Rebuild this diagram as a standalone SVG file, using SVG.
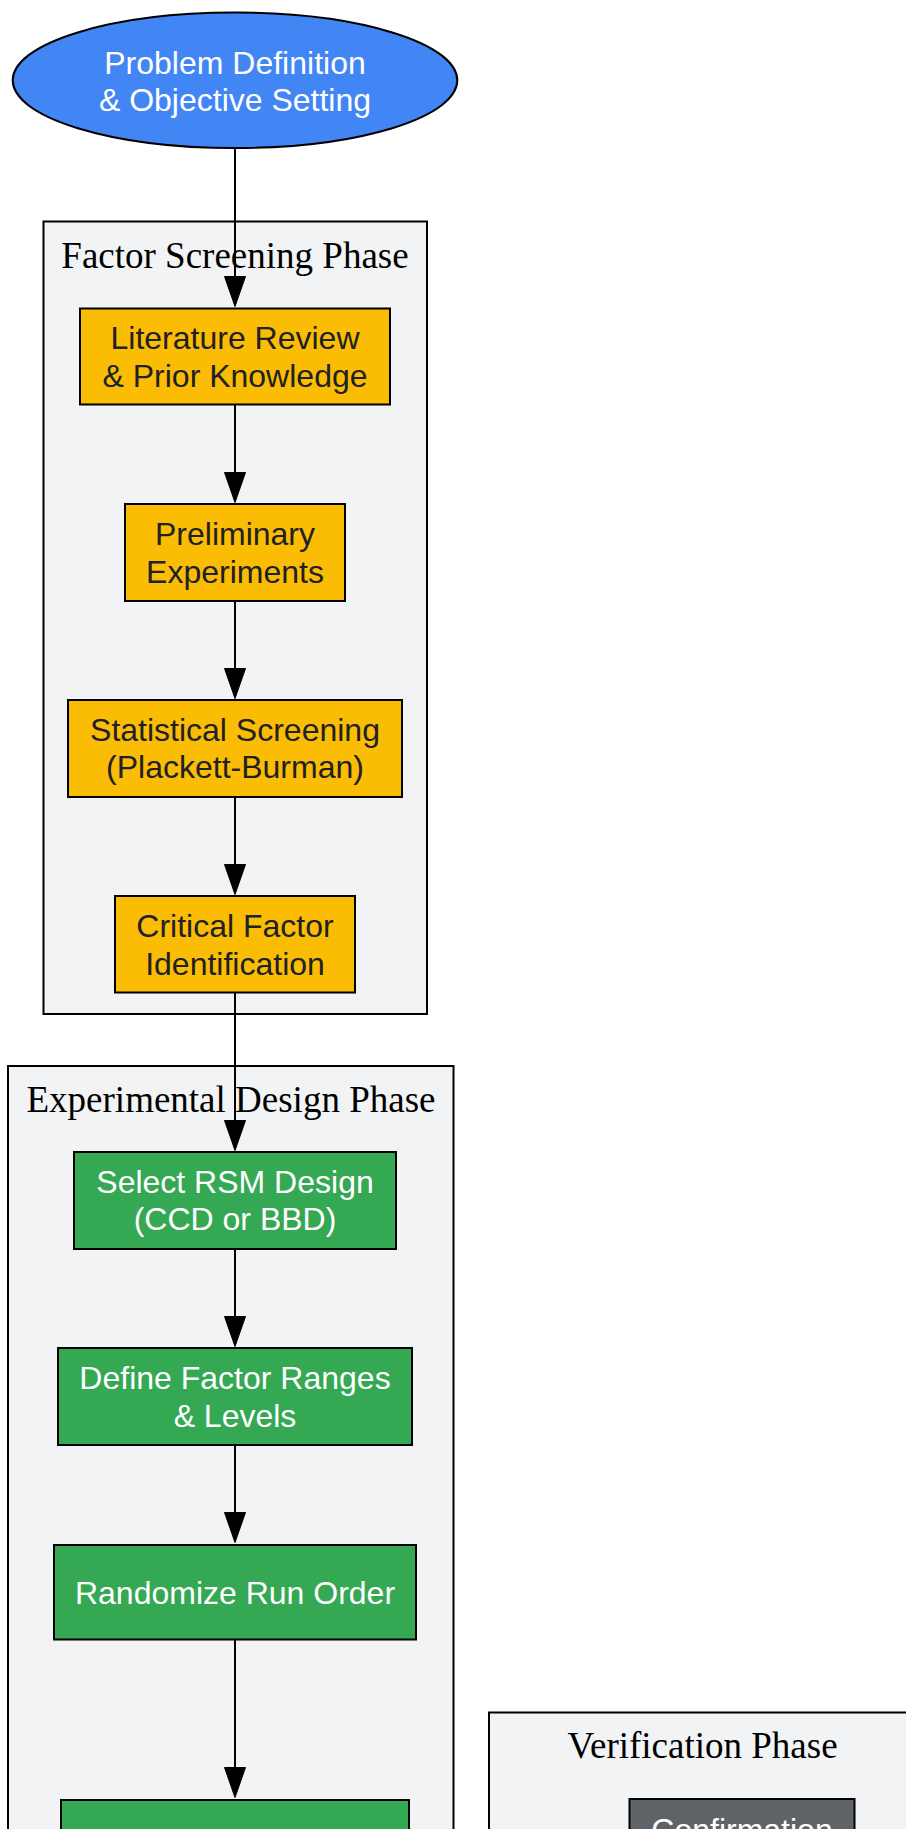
<svg xmlns="http://www.w3.org/2000/svg" width="906" height="1829" viewBox="0 0 906 1829">
<style>
.cluster{fill:#F1F3F4;stroke:#000;stroke-width:2}
.ctitle{font-family:"Liberation Serif","Times New Roman",serif;font-size:37px;fill:#000;text-anchor:middle}
.node{stroke:#000;stroke-width:2}
.lbl{font-family:"Liberation Sans",Arial,sans-serif;font-size:32px;text-anchor:middle}
.w{fill:#FFFFFF}
.d{fill:#202124}
.blue{fill:#4285F4}
.yellow{fill:#FBBC04}
.green{fill:#34A853}
.gray{fill:#5F6368}
.edge{stroke:#000;stroke-width:2;fill:none}
.head{fill:#000;stroke:#000;stroke-width:1}
</style>
<rect x="0" y="0" width="906" height="1829" fill="#FFFFFF"/>
<g id="cluster_screening">
<rect class="cluster" x="43.5" y="221.5" width="383.5" height="792.5"/>
<text class="ctitle" x="235" y="268.3">Factor Screening Phase</text>
</g>
<g id="cluster_design">
<rect class="cluster" x="8" y="1066" width="445.5" height="840"/>
<text class="ctitle" x="231" y="1111.7">Experimental Design Phase</text>
</g>
<g id="cluster_verification">
<rect class="cluster" x="489" y="1712.5" width="431" height="200"/>
<text class="ctitle" x="702.5" y="1757.7">Verification Phase</text>
</g>
<g id="edges">
<line class="edge" x1="235" y1="149" x2="235" y2="280"/>
<polygon class="head" points="224.5,276.5 245.5,276.5 235,306.5"/>
<line class="edge" x1="235" y1="405" x2="235" y2="476"/>
<polygon class="head" points="224.5,472.5 245.5,472.5 235,502.5"/>
<line class="edge" x1="235" y1="601.5" x2="235" y2="672"/>
<polygon class="head" points="224.5,668.5 245.5,668.5 235,698.5"/>
<line class="edge" x1="235" y1="797.5" x2="235" y2="868"/>
<polygon class="head" points="224.5,864.5 245.5,864.5 235,894.5"/>
<line class="edge" x1="235" y1="993" x2="235" y2="1124"/>
<polygon class="head" points="224.5,1120.5 245.5,1120.5 235,1150.5"/>
<line class="edge" x1="235" y1="1249.5" x2="235" y2="1320"/>
<polygon class="head" points="224.5,1316.5 245.5,1316.5 235,1346.5"/>
<line class="edge" x1="235" y1="1445.5" x2="235" y2="1516"/>
<polygon class="head" points="224.5,1512.5 245.5,1512.5 235,1542.5"/>
<line class="edge" x1="235" y1="1640" x2="235" y2="1771"/>
<polygon class="head" points="224.5,1767.5 245.5,1767.5 235,1797.5"/>
</g>
<g id="node_problem">
<ellipse class="node blue" cx="235" cy="80.3" rx="222.3" ry="67.7"/>
<text class="lbl w" x="235" y="73.5">Problem Definition</text>
<text class="lbl w" x="235" y="110.8">&amp; Objective Setting</text>
</g>
<g id="node_literature">
<rect class="node yellow" x="80" y="308.5" width="310" height="96"/>
<text class="lbl d" x="235" y="349">Literature Review</text>
<text class="lbl d" x="235" y="386.5">&amp; Prior Knowledge</text>
</g>
<g id="node_preliminary">
<rect class="node yellow" x="125" y="504" width="220" height="97"/>
<text class="lbl d" x="235" y="545">Preliminary</text>
<text class="lbl d" x="235" y="582.5">Experiments</text>
</g>
<g id="node_statistical">
<rect class="node yellow" x="68" y="700" width="334" height="97"/>
<text class="lbl d" x="235" y="741">Statistical Screening</text>
<text class="lbl d" x="235" y="778.3">(Plackett-Burman)</text>
</g>
<g id="node_critical">
<rect class="node yellow" x="115" y="896" width="240" height="96.5"/>
<text class="lbl d" x="235" y="937">Critical Factor</text>
<text class="lbl d" x="235" y="974.5">Identification</text>
</g>
<g id="node_select">
<rect class="node green" x="74" y="1152" width="322" height="97"/>
<text class="lbl w" x="235" y="1192.7">Select RSM Design</text>
<text class="lbl w" x="235" y="1230">(CCD or BBD)</text>
</g>
<g id="node_define">
<rect class="node green" x="58" y="1348" width="354" height="97"/>
<text class="lbl w" x="235" y="1389.3">Define Factor Ranges</text>
<text class="lbl w" x="235" y="1426.7">&amp; Levels</text>
</g>
<g id="node_randomize">
<rect class="node green" x="54" y="1545" width="362" height="94.5"/>
<text class="lbl w" x="235" y="1604">Randomize Run Order</text>
</g>
<g id="node_next">
<rect class="node green" x="61" y="1800" width="348" height="100"/>
</g>
<g id="node_confirmation">
<rect class="node gray" x="629.5" y="1799" width="225" height="100"/>
<text class="lbl w" x="742" y="1840.5">Confirmation</text>
</g>
</svg>
